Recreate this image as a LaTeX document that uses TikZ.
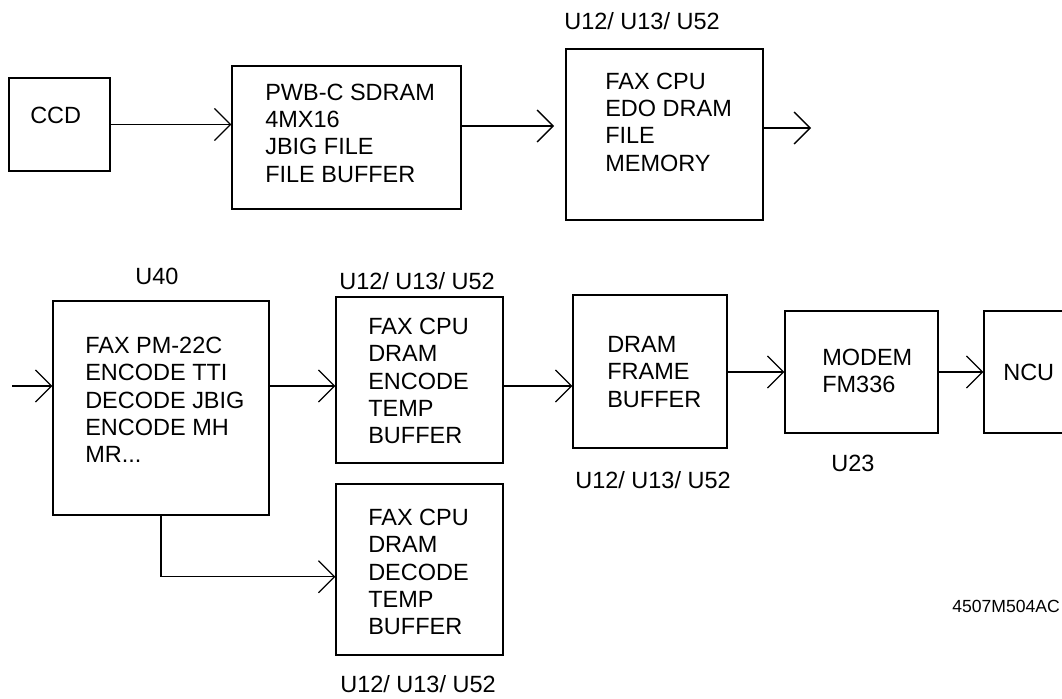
\documentclass[tikz,border=0pt]{standalone}
\usepackage{fontspec}
\setmainfont{Liberation Sans}
\usetikzlibrary{arrows.meta}
\tikzset{
  unit/.style={draw, line width=0.9pt, inner sep=0pt},
  unittext/.style={align=left, anchor=west, inner sep=0pt, font=\fontsize{16.7}{19.4}\selectfont},
  partno/.style={inner sep=0pt, font=\fontsize{16.7}{19.4}\selectfont},
  flow/.style={-{Straight Barb[length=4mm, width=8mm, line width=0.9pt]}, line width=0.9pt}
}

\begin{document}
\begin{tikzpicture}[x=0.025cm, y=-0.025cm]
  \useasboundingbox (0,0) rectangle (1062,698);

  % upper row
  \node[unit, minimum width=2.525cm, minimum height=2.325cm] (ccd) at (59.5,124.5) {};
  \node[unittext] (ccdtxt) at (30,115) {CCD};
  \node[unit, minimum width=5.725cm, minimum height=3.575cm] (pwb) at (346.5,137.5) {};
  \node[unittext] (pwbtxt) at (265,133) {PWB-C SDRAM\\4MX16\\JBIG FILE\\FILE BUFFER};
  \node[unit, minimum width=4.925cm, minimum height=4.275cm] (fax) at (664.5,134.5) {};
  \node[unittext] (faxtxt) at (605,122) {FAX CPU\\EDO DRAM\\FILE\\MEMORY};
  \node[partno] (faxno) at (642,21) {U12/ U13/ U52};
  \coordinate (faxin) at (554,126);
  \coordinate (faxout) at (811,128);

  \draw[flow] (ccd.east) -- (ccd.east -| pwb.west);
  \draw[flow] (pwb.east |- faxin) -- (faxin);
  \draw[flow] (fax.east |- faxout) -- (faxout);

  % lower row
  \node[unit, minimum width=5.4cm, minimum height=5.35cm] (pm) at (161,408) {};
  \node[unittext] (pmtxt) at (85,400) {FAX PM-22C\\ENCODE TTI\\DECODE JBIG\\ENCODE MH\\MR...};
  \node[partno] (pmno) at (157,276) {U40};
  \node[unit, minimum width=4.175cm, minimum height=4.15cm] (enc) at (419.5,380) {};
  \node[unittext] (enctxt) at (368,381) {FAX CPU\\DRAM\\ENCODE\\TEMP\\BUFFER};
  \node[partno] (encno) at (417,281) {U12/ U13/ U52};
  \node[unit, minimum width=4.175cm, minimum height=4.275cm] (dec) at (419.5,569.5) {};
  \node[unittext] (dectxt) at (368,572) {FAX CPU\\DRAM\\DECODE\\TEMP\\BUFFER};
  \node[partno] (decno) at (418,684) {U12/ U13/ U52};
  \node[unit, minimum width=3.85cm, minimum height=3.825cm] (frame) at (650,371.5) {};
  \node[unittext] (frametxt) at (607,372) {DRAM\\FRAME\\BUFFER};
  \node[partno] (frameno) at (653,480) {U12/ U13/ U52};
  \node[unit, minimum width=3.825cm, minimum height=3.05cm] (modem) at (861.5,372) {};
  \node[unittext] (modemtxt) at (822,371) {MODEM\\FM336};
  \node[partno] (modemno) at (853,463) {U23};
  \node[unit, minimum width=2.4cm, minimum height=3.05cm] (ncu) at (1032,372) {};
  \node[unittext] (ncutxt) at (1003,372) {NCU};
  \node[partno, anchor=west, font=\fontsize{12.5}{15}\selectfont] (figno) at (952,606) {4507M504AC};
  \coordinate (pmin) at (12,386);
  \coordinate (row) at (0,386);

  \draw[flow] (pmin) -- (pmin -| pm.west);
  \draw[flow] (pm.east |- row) -- (enc.west |- row);
  \draw[flow] (enc.east |- row) -- (frame.west |- row);
  \draw[flow] (frame.east |- modem.west) -- (modem.west);
  \draw[flow] (modem.east) -- (ncu.west);
  \draw[flow] (pm.south) |- ([yshift=-0.18cm]dec.west);
\end{tikzpicture}
\end{document}
